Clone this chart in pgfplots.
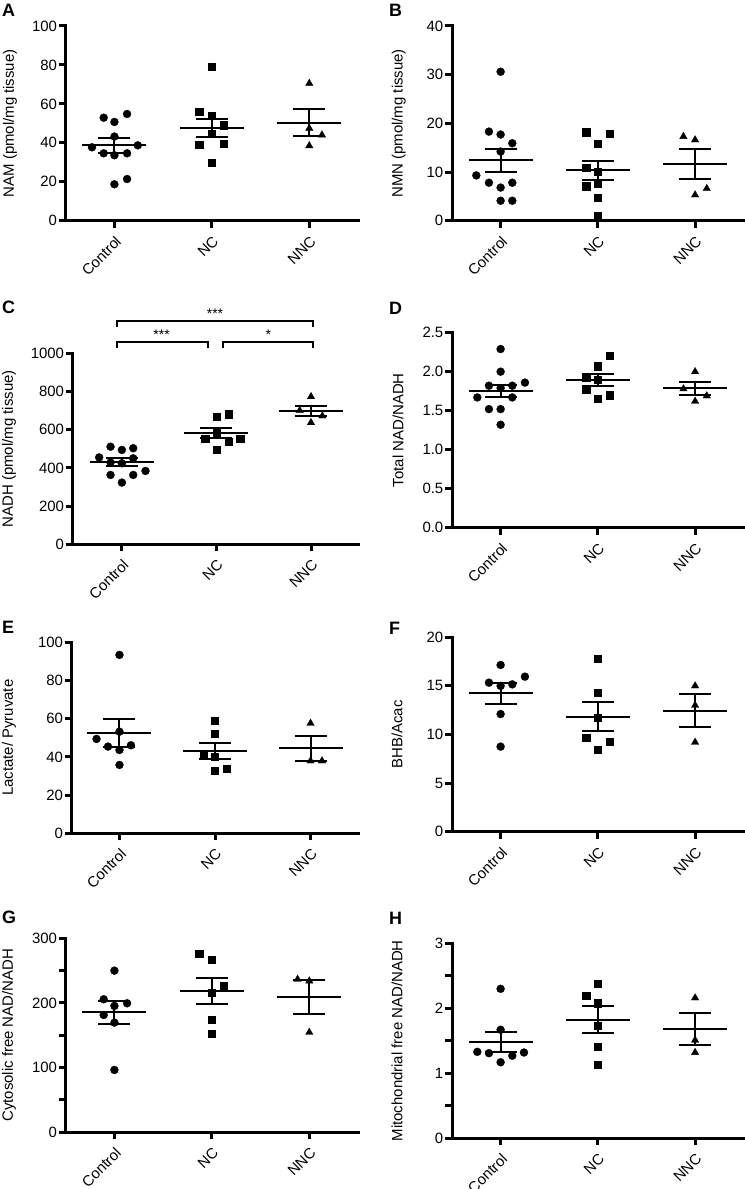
\documentclass[border=0pt]{standalone}
\usepackage{fontspec}
\setmainfont{Liberation Sans}
\usepackage{pgfplots}
\pgfplotsset{compat=1.18}

\newcommand{\tickfont}{\fontsize{15}{15}\selectfont}
\newcommand{\labfont}{\fontsize{15}{15}\selectfont}
\newcommand{\panfont}{\fontsize{18}{18}\selectfont\bfseries}

% x, mean, lower, upper
\newcommand{\msem}[4]{%
  \addplot[only marks, mark=-, mark size=32bp, mark options={line width=2bp, black}] coordinates {(#1,#2)};
  \addplot[only marks, mark=-, mark size=16bp, mark options={line width=2bp, black}] coordinates {(#1,#3) (#1,#4)};
  \addplot[no marks, line width=2bp, black] coordinates {(#1,#3) (#1,#4)};
}

\pgfplotsset{
  prism/.style={
    scale only axis,
    anchor=south west,
    axis lines=left,
    axis line style={-, line width=3bp, black, line cap=rect},
    xmin=-0.5, xmax=2.5, ymin=0,
    xtick={0,1,2}, xticklabels={Control,NC,NNC},
    tick style={line width=3bp, black},
    major tick length=7bp,
    tick align=outside,
    x tick label style={rotate=45, anchor=north east, inner sep=0pt, font=\tickfont, xshift=-5bp, yshift=-5bp},
    y tick label style={anchor=east, inner sep=0pt, font=\tickfont, xshift=-1.5bp},
    clip=false,
  },
  ctrl/.style={only marks, mark=*, mark size=4bp, mark options={fill=black, draw=black, line width=0.3bp}},
  nc/.style={only marks, mark=square*, mark size=3.6bp, mark options={fill=black, draw=black, line width=0.3bp}},
  nnc/.style={only marks, mark=triangle*, mark size=4.3bp, mark options={fill=black, draw=black, line width=0.3bp}},
}

\begin{document}
\begin{tikzpicture}[x=1bp, y=1bp]
\useasboundingbox[fill=white] (0,0) rectangle (745,1189);

% ---------- A ----------
\begin{axis}[prism, at={(65.7bp,968.3bp)}, width=292.3bp, height=194.7bp,
  ymax=100, ytick={0,20,40,60,80,100}, yticklabels={0,20,40,60,80,100}]
\addplot[ctrl] coordinates {(-0.11,52.9) (0,50.7) (0.13,54.8) (-0.23,37.7) (0,43.2) (0.24,38.7) (-0.11,34.6) (0,33.6) (0.13,34.6) (0,18.7) (0.13,21.4)};
\addplot[nc] coordinates {(1,79.1) (0.87,56.0) (1,53.8) (1.12,49.1) (1,44.9) (0.87,38.9) (1.12,39.7) (1,29.8)};
\addplot[nnc] coordinates {(2,70.5) (2,47.4) (2.13,44.0) (2,38.5)};
\msem{0}{38.7}{34.9}{42.5}
\msem{1}{47.8}{43.0}{52.4}
\msem{2}{50.4}{43.5}{57.4}
\end{axis}

% ---------- B ----------
\begin{axis}[prism, at={(452bp,968.3bp)}, width=291.7bp, height=194.7bp,
  ymax=40, ytick={0,10,20,30,40}, yticklabels={0,10,20,30,40}]
\addplot[ctrl] coordinates {(0,30.6) (-0.12,18.3) (0,17.7) (0.12,15.9) (0,14.2) (-0.25,9.3) (-0.12,7.8) (0,6.8) (0.12,7.8) (0,4.1) (0.12,4.1)};
\addplot[nc] coordinates {(0.88,18.2) (1.12,17.9) (1,15.9) (0.88,10.9) (1,10.1) (0.88,7.1) (1,7.7) (1,4.7) (1,1.1)};
\addplot[nnc] coordinates {(1.88,17.3) (2,16.6) (2,5.3) (2.12,6.6)};
\msem{0}{12.4}{10.0}{14.8}
\msem{1}{10.4}{8.4}{12.3}
\msem{2}{11.6}{8.5}{14.7}
\end{axis}

% ---------- C ----------
\begin{axis}[prism, at={(72.7bp,644.7bp)}, width=285.6bp, height=191bp, xmin=-0.52,
  ymax=1000, ytick={0,200,400,600,800,1000}, yticklabels={0,200,400,600,800,1000}]
\addplot[ctrl] coordinates {(-0.12,511) (0,494) (0.12,503) (-0.24,455) (-0.12,428) (0,424) (0.12,450) (-0.12,363) (0,323) (0.12,363) (0.25,384)};
\addplot[nc] coordinates {(1.13,681) (1,668) (1,586) (0.88,555) (1.13,538) (1.25,555) (1,497)};
\addplot[nnc] coordinates {(2,773) (1.88,700) (2.12,672) (2,637)};
\msem{0}{430}{410}{450}
\msem{1}{585}{559}{611}
\msem{2}{698}{670}{726}
\addplot[no marks, line width=2bp, black] coordinates {(-0.049,1136) (-0.049,1171) (2.018,1171) (2.018,1136)};
\addplot[no marks, line width=2bp, black] coordinates {(-0.049,1026) (-0.049,1061) (0.914,1061) (0.914,1026)};
\addplot[no marks, line width=2bp, black] coordinates {(1.072,1026) (1.072,1061) (2.018,1061) (2.018,1026)};
\node[anchor=base, inner sep=0pt, font=\fontsize{14}{14}\selectfont] at (axis cs:0.985,1180) {***};
\node[anchor=base, inner sep=0pt, font=\fontsize{14}{14}\selectfont] at (axis cs:0.42,1070) {***};
\node[anchor=base, inner sep=0pt, font=\fontsize{14}{14}\selectfont] at (axis cs:1.548,1070) {*};
\end{axis}

% ---------- D ----------
\begin{axis}[prism, at={(452bp,661.3bp)}, width=291.7bp, height=195bp,
  ymax=2.5, ytick={0,0.5,1,1.5,2,2.5}, yticklabels={0.0,0.5,1.0,1.5,2.0,2.5}]
\addplot[ctrl] coordinates {(0,2.29) (0,2.00) (0.25,1.86) (-0.12,1.82) (0.12,1.82) (0,1.79) (-0.24,1.67) (0.12,1.67) (-0.12,1.52) (0,1.52) (0,1.32)};
\addplot[nc] coordinates {(1.12,2.21) (1,2.07) (0.88,1.93) (1,1.90) (0.88,1.77) (1,1.65) (1.12,1.70)};
\addplot[nnc] coordinates {(2,2.00) (1.88,1.78) (2.12,1.69) (2,1.62)};
\msem{0}{1.756}{1.67}{1.83}
\msem{1}{1.89}{1.82}{1.97}
\msem{2}{1.79}{1.70}{1.87}
\end{axis}

% ---------- E ----------
\begin{axis}[prism, at={(71.7bp,355.7bp)}, width=286.6bp, height=191bp,
  ymax=100, ytick={0,20,40,60,80,100}, yticklabels={0,20,40,60,80,100}]
\addplot[ctrl] coordinates {(0,93.4) (0,53.2) (-0.24,49.4) (-0.12,45.4) (0,43.6) (0.12,46.1) (0,35.8)};
\addplot[nc] coordinates {(1,59.0) (1,52.0) (0.88,41.4) (1,40.1) (1,32.6) (1.12,33.7)};
\addplot[nnc] coordinates {(2,57.6) (2,37.9) (2.12,37.9)};
\msem{0}{52.5}{45.4}{59.7}
\msem{1}{43.1}{38.9}{47.5}
\msem{2}{44.7}{38.0}{51.1}
\end{axis}

% ---------- F ----------
\begin{axis}[prism, at={(452bp,357.3bp)}, width=291.7bp, height=194.4bp,
  ymax=20, ytick={0,5,10,15,20}, yticklabels={0,5,10,15,20}]
\addplot[ctrl] coordinates {(0,17.15) (0.25,15.95) (-0.12,15.33) (0.12,15.16) (0,15.0) (0,12.1) (0,8.75)};
\addplot[nc] coordinates {(1,17.77) (1,14.3) (1,11.73) (0.88,9.67) (1.12,9.23) (1,8.4)};
\addplot[nnc] coordinates {(2,15.0) (2,13.0) (2,9.2)};
\msem{0}{14.24}{13.14}{15.33}
\msem{1}{11.83}{10.4}{13.3}
\msem{2}{12.45}{10.8}{14.17}
\end{axis}

% ---------- G ----------
\begin{axis}[prism, at={(65.7bp,56.7bp)}, width=292.3bp, height=194bp,
  ymax=300, ytick={0,50,100,150,200,250,300}, yticklabels={0,,100,,200,,300}]
\addplot[ctrl] coordinates {(0,250) (-0.11,205.7) (0.13,199.5) (0,195.4) (-0.11,181.4) (0,169.6) (0,96.4)};
\addplot[nc] coordinates {(0.87,275.8) (1,266.5) (1.12,226.8) (1,216.5) (1,173.7) (1,152)};
\addplot[nnc] coordinates {(1.88,236.6) (2,234) (2,154.6)};
\msem{0}{185.6}{167.5}{203.1}
\msem{1}{219}{198.5}{238}
\msem{2}{209.3}{182.5}{236}
\end{axis}

% ---------- H ----------
\begin{axis}[prism, at={(452bp,50.7bp)}, width=291.7bp, height=195bp,
  ymax=3, ytick={0,0.5,1,1.5,2,2.5,3}, yticklabels={0,,1,,2,,3}]
\addplot[ctrl] coordinates {(0,2.30) (0,1.67) (-0.24,1.33) (-0.12,1.31) (0.24,1.32) (0,1.17) (0.12,1.27)};
\addplot[nc] coordinates {(1,2.38) (0.88,2.19) (1,2.08) (1,1.73) (1,1.41) (1,1.13)};
\addplot[nnc] coordinates {(2,2.16) (2,1.51) (2,1.32)};
\msem{0}{1.48}{1.33}{1.63}
\msem{1}{1.82}{1.62}{2.03}
\msem{2}{1.68}{1.43}{1.93}
\end{axis}

% y labels
\node[rotate=90, font=\labfont] at (10,1065.6) {NAM (pmol/mg tissue)};
\node[rotate=90, font=\labfont] at (398.7,1065.6) {NMN (pmol/mg tissue)};
\node[rotate=90, font=\labfont] at (9,740.2) {NADH (pmol/mg tissue)};
\node[rotate=90, font=\labfont] at (398,758.8) {Total NAD/NADH};
\node[rotate=90, font=\labfont] at (9,451.2) {Lactate/ Pyruvate};
\node[rotate=90, font=\labfont] at (397,454.5) {BHB/Acac};
\node[rotate=90, font=\labfont] at (9,153.7) {Cytosolic free NAD/NADH};
\node[rotate=90, font=\labfont] at (397,148.2) {Mitochondrial free NAD/NADH};

% panel letters
\node[anchor=base west, inner sep=0pt, font=\panfont] at (2,1172.3) {A};
\node[anchor=base west, inner sep=0pt, font=\panfont] at (389,1172.3) {B};
\node[anchor=base west, inner sep=0pt, font=\panfont] at (2,875.7) {C};
\node[anchor=base west, inner sep=0pt, font=\panfont] at (389,874) {D};
\node[anchor=base west, inner sep=0pt, font=\panfont] at (2,555.7) {E};
\node[anchor=base west, inner sep=0pt, font=\panfont] at (389,554) {F};
\node[anchor=base west, inner sep=0pt, font=\panfont] at (2,265.7) {G};
\node[anchor=base west, inner sep=0pt, font=\panfont] at (389,264) {H};
\end{tikzpicture}
\end{document}
